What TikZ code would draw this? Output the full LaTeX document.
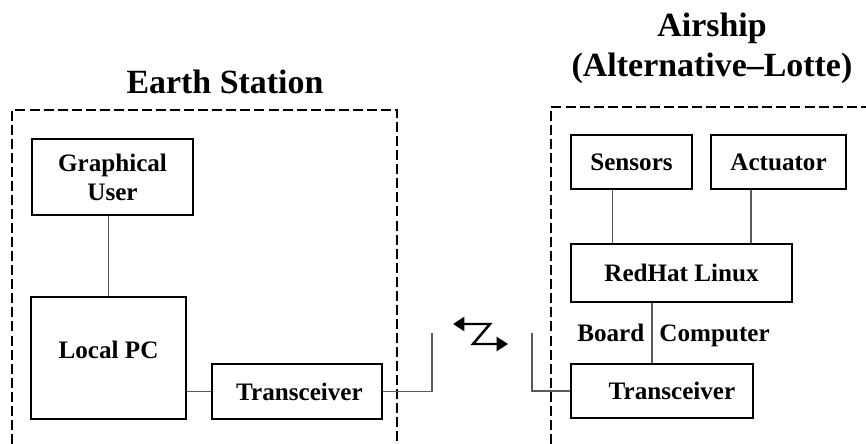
\documentclass[tikz,border=0pt]{standalone}
\usepackage{fontspec}
\setmainfont{Liberation Serif}
\usetikzlibrary{arrows.meta}

\begin{document}
\begin{tikzpicture}[
  unit/.style={
    rectangle, draw, line width=0.8pt, inner sep=0pt,
    align=center, font=\fontsize{14.3}{16.5}\selectfont\bfseries
  },
  heading/.style={
    align=center, inner sep=0pt,
    font=\fontsize{19.3}{22.7}\selectfont\bfseries
  },
  label/.style={inner sep=0pt, font=\fontsize{14.3}{16.5}\selectfont\bfseries},
  frame/.style={draw=black, line width=1.6pt, dash pattern=on 5.7pt off 2.3pt},
  link/.style={draw=black!65, line width=0.6pt},
  radio/.style={draw=black, line width=1.4pt, {Triangle[length=6.5pt,width=8pt]}-{Triangle[length=6.5pt,width=8pt]}}
]
\useasboundingbox (0,0) rectangle (17.32,8.86);

% --- Titles ---
\node[heading] (earthtitle) at (4.5, 7.22) {Earth Station};
\node[heading] (airtitle) at (14.24, 7.9) {Airship\\(Alternative--Lotte)};

% --- Dashed frames (cut off by the page edge) ---
\draw[frame] (0.24, -0.3) |- (7.94, 6.66) -- (7.94, -0.3);
\draw[frame] (11.02, -0.3) |- (17.7, 6.72);

% =========================================================
% EARTH STATION
% =========================================================
\node[unit, minimum width=3.22cm, minimum height=1.52cm] (gui) at (2.25, 5.32) {Graphical\\User};
\node[unit, minimum width=3.10cm, minimum height=2.44cm] (pc) at (2.17, 1.70) {\raisebox{0.32cm}{Local PC}};
\node[unit, minimum width=3.40cm, minimum height=1.10cm] (etr) at (5.94, 1.03) {\hspace{0.1cm}Transceiver};

\draw[link] (gui.south -| pc.north) -- (pc.north);
\draw[link] (pc.east |- etr.west) -- (etr.west);

% antenna stub
\coordinate (eant) at (8.64, 2.20);
\draw[link] (etr.east) -| (eant);

% =========================================================
% AIRSHIP
% =========================================================
\node[unit, minimum width=2.42cm, minimum height=1.08cm] (sens) at (12.63, 5.62) {Sensors};
\node[unit, minimum width=2.70cm, minimum height=1.08cm] (act) at (15.57, 5.62) {Actuator};
\node[unit, minimum width=4.42cm, minimum height=1.16cm] (rh) at (13.63, 3.40) {RedHat Linux};
\node[unit, minimum width=3.64cm, minimum height=1.08cm] (atr) at (13.24, 1.04) {\hspace{0.4cm}Transceiver};

\node[label] (board) at (13.47, 2.16) {Board\hspace{0.6em}Computer};

\draw[link] ([xshift=-0.38cm]sens.south) -- ([xshift=-0.38cm]sens.south |- rh.north);
\draw[link] ([xshift=-0.55cm]act.south) -- ([xshift=-0.55cm]act.south |- rh.north);
\draw[link] ([xshift=-0.59cm]rh.south) -- ([xshift=-0.59cm]rh.south |- atr.north);

% antenna stub
\coordinate (aant) at (10.64, 2.20);
\draw[link] (aant) |- (atr.west);

% --- Radio link ---
\coordinate (zl) at (9.06, 2.38);
\coordinate (zr) at (10.16, 1.98);
\draw[radio] (zl) -- (9.80, 2.38) -- (9.46, 1.98) -- (zr);

\end{tikzpicture}
\end{document}
